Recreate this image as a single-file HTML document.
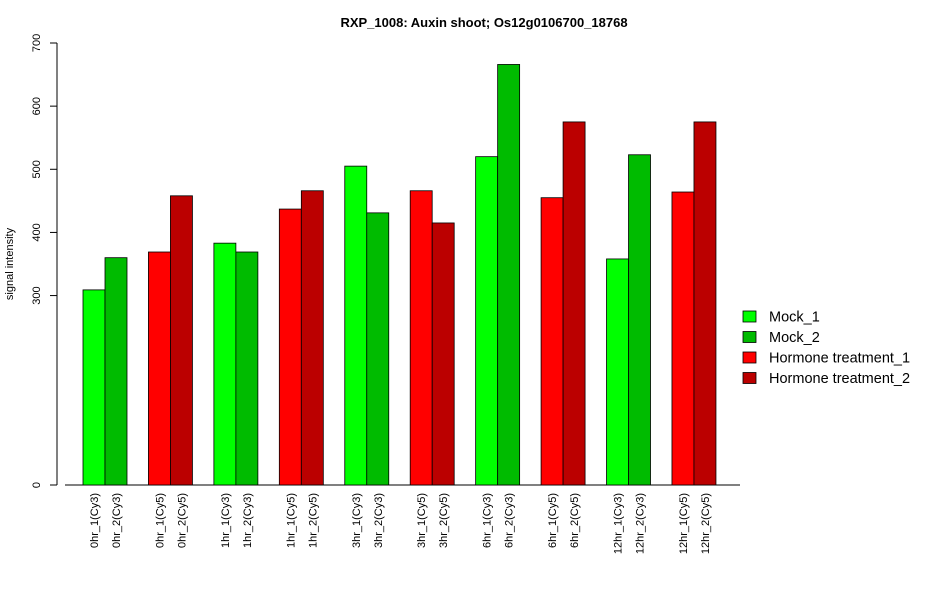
<!DOCTYPE html>
<html><head><meta charset="utf-8"><style>
body{margin:0;background:#fff;font-family:"Liberation Sans",Arial,sans-serif}
</style></head><body>
<svg id="chart" width="950" height="600" xmlns="http://www.w3.org/2000/svg" font-family="Liberation Sans, Arial, sans-serif">
<text x="484" y="27" text-anchor="middle" font-size="13" font-weight="bold">RXP_1008: Auxin shoot; Os12g0106700_18768</text>
<text transform="translate(13,264) rotate(-90)" text-anchor="middle" font-size="11">signal intensity</text>
<g id="axes"></g><g id="bars"></g><g id="labels"></g><g id="legend"></g>
</svg>
<script>
const categories=["0hr_1(Cy3)","0hr_2(Cy3)","0hr_1(Cy5)","0hr_2(Cy5)","1hr_1(Cy3)","1hr_2(Cy3)","1hr_1(Cy5)","1hr_2(Cy5)","3hr_1(Cy3)","3hr_2(Cy3)","3hr_1(Cy5)","3hr_2(Cy5)","6hr_1(Cy3)","6hr_2(Cy3)","6hr_1(Cy5)","6hr_2(Cy5)","12hr_1(Cy3)","12hr_2(Cy3)","12hr_1(Cy5)","12hr_2(Cy5)"];
const values=[309,360,369,458,383,369,437,466,505,431,466,415,520,666,455,575,358,523,464,575];
const seriesIdx=[0,1,2,3,0,1,2,3,0,1,2,3,0,1,2,3,0,1,2,3];
const seriesNames=["Mock_1","Mock_2","Hormone treatment_1","Hormone treatment_2"];
const colors=["#00ff00","#00bb00","#ff0000","#bb0000"];
const yTicks=[0,300,400,500,600,700];
const NS="http://www.w3.org/2000/svg";
const y0=485,yTop=43,yMax=700;
function y(v){return y0-(v/yMax)*(y0-yTop);}
function xb(i){const p=Math.floor(i/2);return 83+p*65.44+(i%2)*22;}
function mk(t,a,parent){const e=document.createElementNS(NS,t);for(const k in a)e.setAttribute(k,a[k]);parent.appendChild(e);return e;}
const axes=document.getElementById('axes'),bars=document.getElementById('bars'),labels=document.getElementById('labels'),legend=document.getElementById('legend');
let l=mk('line',{x1:57,x2:57,y1:y(0),y2:y(700),stroke:'#000'},axes);


l=mk('line',{x1:65,x2:740,y1:y0,y2:y0,stroke:'#000'},axes);


yTicks.forEach(v=>{
 const t=mk('line',{x1:50,x2:57,y1:y(v),y2:y(v),stroke:'#000'},axes);
 
 
 const tx=mk('text',{transform:`translate(40,${y(v)}) rotate(-90)`,'text-anchor':'middle','font-size':11},axes);
 tx.textContent=v;
 
 
});
values.forEach((v,i)=>{
 const r=mk('rect',{x:xb(i),y:y(v),width:22,height:y0-y(v),fill:colors[seriesIdx[i]],stroke:'#000','stroke-width':0.8},bars);
 
 
 const cx=xb(i)+11;
 const t=mk('text',{transform:`translate(${cx+4},493) rotate(-90)`,'text-anchor':'end','font-size':11},labels);
 t.textContent=categories[i];
 
 
});
seriesNames.forEach((n,i)=>{
 const yy=311+i*20.5;
 const r=mk('rect',{x:743,y:yy,width:13,height:11,fill:colors[i],stroke:'#000','stroke-width':0.8},legend);
 
 
 const t=mk('text',{x:769,y:yy+10.5,'font-size':14.5},legend);
 t.textContent=n;
 
 
});
</script>
</body></html>
